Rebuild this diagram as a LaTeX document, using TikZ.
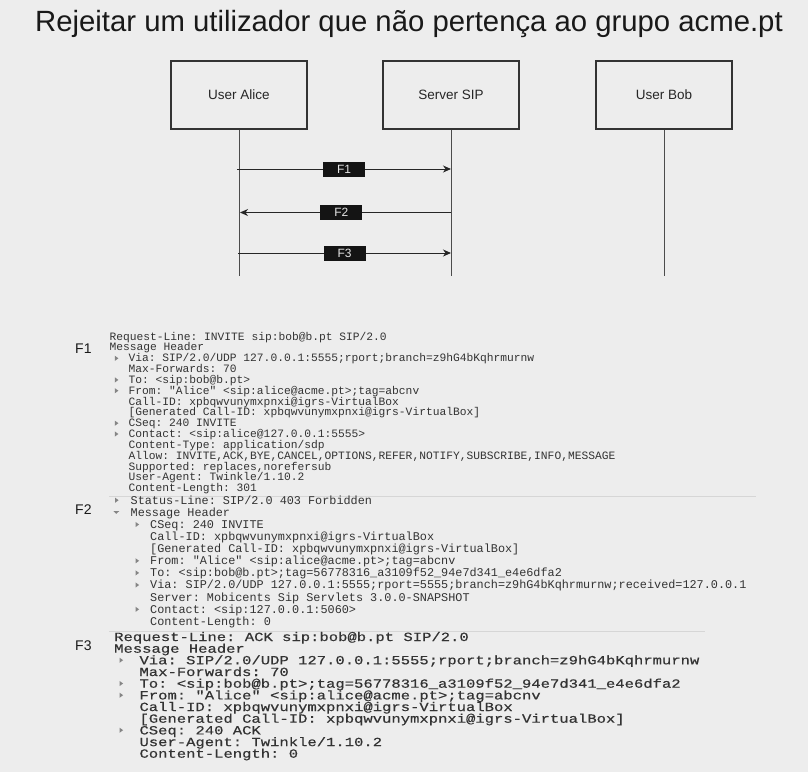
\documentclass[tikz,border=0pt]{standalone}
\usepackage{fontspec}
\usepackage{graphicx}
\setmainfont{Liberation Sans}
\setmonofont{Liberation Mono}
\newfontfamily\monobold[FakeBold=0.4]{Liberation Mono}
\newcommand\widetxt[1]{\scalebox{1.244}[1]{#1}}
\usetikzlibrary{arrows.meta}
\definecolor{bg}{HTML}{EDEDED}
\definecolor{txt}{HTML}{333333}
\definecolor{trig}{HTML}{858585}
\definecolor{sepc}{HTML}{D6D6D6}
\definecolor{boxc}{HTML}{333333}
\begin{document}
\frenchspacing
\begin{tikzpicture}[x=1pt,y=-1pt,
  actor/.style={draw=boxc,line width=1.3pt,minimum width=136pt,minimum height=68pt,inner sep=0pt,
    font=\fontsize{13.5}{15}\selectfont,text=black!85},
  life/.style={draw=black!70,line width=1pt},
  msg/.style={draw=black!85,line width=1pt,-{Stealth[length=8pt,width=7pt,inset=2.5pt]}},
  flabel/.style={fill=black!92,text=white!90!black,minimum width=42pt,minimum height=15pt,inner sep=0pt,
    font=\fontsize{12}{13}\selectfont},
  fname/.style={anchor=base west,inner sep=0pt,font=\fontsize{14}{16}\selectfont,text=black!90},
  ta/.style={anchor=base west,inner sep=0pt,text=txt,font=\fontsize{11.27}{12}\selectfont\ttfamily},
  tb/.style={anchor=base west,inner sep=0pt,text=txt,font=\fontsize{11.83}{12}\selectfont\ttfamily},
  tc/.style={anchor=base west,inner sep=0pt,text=txt,font=\fontsize{12.5}{12}\selectfont\monobold},
  sepline/.style={draw=sepc,line width=0.8pt},
  trir/.pic={\fill[trig] (0,-2.6) -- (3.6,0) -- (0,2.6) -- cycle;},
  trid/.pic={\fill[trig] (-3,-1.3) -- (3,-1.3) -- (0,1.5) -- cycle;}
]
\fill[bg] (0,0) rectangle (808,772);
\useasboundingbox (0,0) rectangle (808,772);

% title
\node[anchor=base,inner sep=0pt,font=\fontsize{29.3}{31}\selectfont,text=black!90] (title) at (409,31)
  {Rejeitar um utilizador que não pertença ao grupo acme.pt};

% actors
\node[actor] (alice) at (239,95) {User Alice};
\node[actor] (server) at (451,95) {Server SIP};
\node[actor] (bob) at (664,95) {User Bob};

\coordinate (aliceEnd) at (alice.south |- 0,276);
\coordinate (serverEnd) at (server.south |- 0,276);
\coordinate (bobEnd) at (bob.south |- 0,276);
\draw[life] (alice.south) -- (aliceEnd);
\draw[life] (server.south) -- (serverEnd);
\draw[life] (bob.south) -- (bobEnd);

% messages
\coordinate (a1) at (alice.south |- 0,169);
\coordinate (s1) at (server.south |- 0,169);
\coordinate (a2) at (alice.south |- 0,212.5);
\coordinate (s2) at (server.south |- 0,212.5);
\coordinate (a3) at (alice.south |- 0,253);
\coordinate (s3) at (server.south |- 0,253);
\draw[msg] ([xshift=-2pt]a1) -- node[flabel,pos=0.5] (lf1) {F1} (s1);
\draw[msg] (s2) -- node[flabel,pos=0.52] (lf2) {F2} ([xshift=1pt]a2);
\draw[msg] ([xshift=-1pt]a3) -- node[flabel,pos=0.5] (lf3) {F3} (s3);

% F labels
\node[fname] (n1) at (75,353) {F1};
\node[fname] (n2) at (75,514) {F2};
\node[fname] (n3) at (75,650) {F3};

% F1 block
\node[ta] (a01) at (109.3,340.0) {Request-Line: INVITE sip:bob@b.pt SIP/2.0};
\node[ta] (a02) at (109.3,350.8) {Message Header};
\pic at (114.8,358.3) {trir};
\node[ta] (a03) at (128.3,361.7) {Via: SIP/2.0/UDP 127.0.0.1:5555;rport;branch=z9hG4bKqhrmurnw};
\node[ta] (a04) at (128.3,372.5) {Max-Forwards: 70};
\pic at (114.8,379.9) {trir};
\node[ta] (a05) at (128.3,383.4) {To: <sip:bob@b.pt>};
\pic at (114.8,390.7) {trir};
\node[ta] (a06) at (128.3,394.2) {From: "Alice" <sip:alice@acme.pt>;tag=abcnv};
\node[ta] (a07) at (128.3,405.0) {Call-ID: xpbqwvunymxpnxi@igrs-VirtualBox};
\node[ta] (a08) at (128.3,415.9) {[Generated Call-ID: xpbqwvunymxpnxi@igrs-VirtualBox]};
\pic at (114.8,423.2) {trir};
\node[ta] (a09) at (128.3,426.7) {CSeq: 240 INVITE};
\pic at (114.8,434.0) {trir};
\node[ta] (a10) at (128.3,437.5) {Contact: <sip:alice@127.0.0.1:5555>};
\node[ta] (a11) at (128.3,448.4) {Content-Type: application/sdp};
\node[ta] (a12) at (128.3,459.2) {Allow: INVITE,ACK,BYE,CANCEL,OPTIONS,REFER,NOTIFY,SUBSCRIBE,INFO,MESSAGE};
\node[ta] (a13) at (128.3,470.1) {Supported: replaces,norefersub};
\node[ta] (a14) at (128.3,480.9) {User-Agent: Twinkle/1.10.2};
\node[ta] (a15) at (128.3,491.7) {Content-Length: 301};

% separator 1
\coordinate (sep1a) at (109,496);
\coordinate (sep1b) at (756,496);
\draw[sepline] (sep1a) -- (sep1b);

% F2 block
\pic at (115,500.2) {trir};
\node[tb] (b01) at (130.5,504.0) {Status-Line: SIP/2.0 403 Forbidden};
\pic at (116.3,512.3) {trid};
\node[tb] (b02) at (130.5,516.1) {Message Header};
\pic at (135.5,524.5) {trir};
\node[tb] (b03) at (150,528.3) {CSeq: 240 INVITE};
\node[tb] (b04) at (150,540.4) {Call-ID: xpbqwvunymxpnxi@igrs-VirtualBox};
\node[tb] (b05) at (150,552.5) {[Generated Call-ID: xpbqwvunymxpnxi@igrs-VirtualBox]};
\pic at (135.5,560.8) {trir};
\node[tb] (b06) at (150,564.6) {From: "Alice" <sip:alice@acme.pt>;tag=abcnv};
\pic at (135.5,572.9) {trir};
\node[tb] (b07) at (150,576.7) {To: <sip:bob@b.pt>;tag=56778316\_a3109f52\_94e7d341\_e4e6dfa2};
\pic at (135.5,585.0) {trir};
\node[tb] (b08) at (150,588.8) {Via: SIP/2.0/UDP 127.0.0.1:5555;rport=5555;branch=z9hG4bKqhrmurnw;received=127.0.0.1};
\node[tb] (b09) at (150,601.0) {Server: Mobicents Sip Servlets 3.0.0-SNAPSHOT};
\pic at (135.5,609.3) {trir};
\node[tb] (b10) at (150,613.1) {Contact: <sip:127.0.0.1:5060>};
\node[tb] (b11) at (150,625.3) {Content-Length: 0};

% separator 2
\coordinate (sep2a) at (109,631);
\coordinate (sep2b) at (705,631);
\draw[sepline] (sep2a) -- (sep2b);

% F3 block
\node[tc] (c01) at (114,641.0) {\widetxt{Request-Line: ACK sip:bob@b.pt SIP/2.0}};
\node[tc] (c02) at (114,652.7) {\widetxt{Message Header}};
\pic at (119.5,660.2) {trir};
\node[tc] (c03) at (139.3,664.3) {\widetxt{Via: SIP/2.0/UDP 127.0.0.1:5555;rport;branch=z9hG4bKqhrmurnw}};
\node[tc] (c04) at (139.3,676.0) {\widetxt{Max-Forwards: 70}};
\pic at (119.5,683.5) {trir};
\node[tc] (c05) at (139.3,687.7) {\widetxt{To: <sip:bob@b.pt>;tag=56778316\_a3109f52\_94e7d341\_e4e6dfa2}};
\pic at (119.5,695.2) {trir};
\node[tc] (c06) at (139.3,699.4) {\widetxt{From: "Alice" <sip:alice@acme.pt>;tag=abcnv}};
\node[tc] (c07) at (139.3,711.0) {\widetxt{Call-ID: xpbqwvunymxpnxi@igrs-VirtualBox}};
\node[tc] (c08) at (139.3,722.7) {\widetxt{[Generated Call-ID: xpbqwvunymxpnxi@igrs-VirtualBox]}};
\pic at (119.5,730.2) {trir};
\node[tc] (c09) at (139.3,734.4) {\widetxt{CSeq: 240 ACK}};
\node[tc] (c10) at (139.3,746.1) {\widetxt{User-Agent: Twinkle/1.10.2}};
\node[tc] (c11) at (139.3,757.7) {\widetxt{Content-Length: 0}};
\end{tikzpicture}
\end{document}
